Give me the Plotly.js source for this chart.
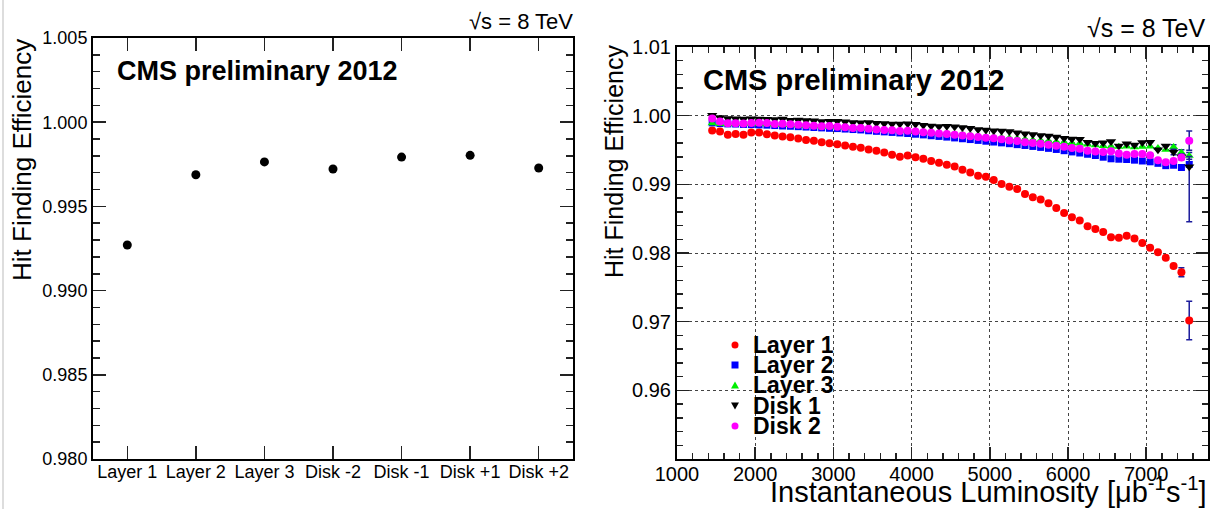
<!DOCTYPE html>
<html>
<head>
<meta charset="utf-8">
<script src="https://cdn.plot.ly/plotly-3.0.1.min.js"></script>
<style>html,body{margin:0;padding:0;background:#fff;}#chart{width:1213px;height:509px;}</style>
</head>
<body>
<div id="chart"></div>
<script>
// ---------- Left panel data ----------
const categories = ['Layer 1','Layer 2','Layer 3','Disk -2','Disk -1','Disk +1','Disk +2'];
const overallEff = [0.99271,0.99688,0.99764,0.99722,0.99793,0.99803,0.99728];

// ---------- Right panel data ----------
const lumi = [1450,1550,1650,1750,1850,1950,2050,2150,2250,2350,
  2450,2550,2650,2750,2850,2950,3050,3150,3250,3350,
  3450,3550,3650,3750,3850,3950,4050,4150,4250,4350,
  4450,4550,4650,4750,4850,4950,5050,5150,5250,5350,
  5450,5550,5650,5750,5850,5950,6050,6150,6250,6350,
  6450,6550,6650,6750,6850,6950,7050,7150,7250,7350,
  7450,7550];
const effLayer1 = [0.99783,0.99768,0.99722,0.99734,0.99722,0.99754,0.99754,0.99730,0.99710,0.99696,
  0.99686,0.99667,0.99647,0.99633,0.99614,0.99599,0.99585,0.99565,0.99546,0.99531,
  0.99507,0.99488,0.99464,0.99430,0.99401,0.99420,0.99396,0.99372,0.99338,0.99314,
  0.99285,0.99261,0.99213,0.99174,0.99126,0.99111,0.99063,0.99005,0.98966,0.98932,
  0.98860,0.98812,0.98778,0.98725,0.98655,0.98582,0.98522,0.98475,0.98388,0.98350,
  0.98306,0.98230,0.98222,0.98251,0.98210,0.98145,0.98075,0.98012,0.97930,0.97810,
  0.97720,0.97016];
const effLayer2 = [0.99895,0.99885,0.99880,0.99878,0.99872,0.99870,0.99866,0.99862,0.99856,0.99850,
  0.99846,0.99840,0.99834,0.99828,0.99822,0.99816,0.99812,0.99805,0.99798,0.99792,
  0.99780,0.99772,0.99764,0.99756,0.99748,0.99740,0.99730,0.99720,0.99708,0.99698,
  0.99688,0.99676,0.99664,0.99652,0.99640,0.99628,0.99616,0.99604,0.99592,0.99578,
  0.99566,0.99552,0.99538,0.99524,0.99508,0.99490,0.99472,0.99456,0.99438,0.99420,
  0.99395,0.99372,0.99366,0.99362,0.99352,0.99340,0.99328,0.99306,0.99272,0.99278,
  0.99245,0.99290];
const effLayer3 = [0.99888,0.99880,0.99875,0.99885,0.99878,0.99888,0.99884,0.99876,0.99870,0.99868,
  0.99864,0.99858,0.99852,0.99848,0.99842,0.99838,0.99832,0.99828,0.99822,0.99816,
  0.99810,0.99804,0.99798,0.99790,0.99784,0.99780,0.99774,0.99766,0.99760,0.99752,
  0.99746,0.99738,0.99730,0.99722,0.99712,0.99702,0.99694,0.99686,0.99676,0.99668,
  0.99656,0.99646,0.99640,0.99630,0.99620,0.99612,0.99602,0.99596,0.99580,0.99570,
  0.99560,0.99552,0.99548,0.99550,0.99540,0.99548,0.99552,0.99530,0.99505,0.99545,
  0.99462,0.99415];
const effDisk1 = [1.00005,0.99975,0.99960,0.99955,0.99950,0.99955,0.99952,0.99948,0.99944,0.99950,
  0.99935,0.99938,0.99930,0.99925,0.99915,0.99920,0.99918,0.99912,0.99902,0.99896,
  0.99900,0.99890,0.99885,0.99880,0.99878,0.99882,0.99876,0.99862,0.99850,0.99842,
  0.99845,0.99840,0.99828,0.99818,0.99800,0.99790,0.99780,0.99776,0.99770,0.99752,
  0.99738,0.99725,0.99710,0.99705,0.99690,0.99670,0.99662,0.99655,0.99612,0.99600,
  0.99605,0.99622,0.99560,0.99590,0.99572,0.99610,0.99612,0.99505,0.99560,0.99470,
  0.99400,0.99255];
const effDisk2 = [0.99960,0.99915,0.99888,0.99890,0.99885,0.99895,0.99898,0.99892,0.99880,0.99882,
  0.99876,0.99868,0.99860,0.99852,0.99846,0.99848,0.99840,0.99832,0.99822,0.99820,
  0.99810,0.99800,0.99792,0.99788,0.99775,0.99780,0.99770,0.99760,0.99752,0.99740,
  0.99732,0.99722,0.99712,0.99702,0.99690,0.99680,0.99670,0.99658,0.99640,0.99630,
  0.99612,0.99602,0.99590,0.99578,0.99562,0.99548,0.99530,0.99518,0.99488,0.99478,
  0.99470,0.99480,0.99448,0.99430,0.99442,0.99440,0.99425,0.99350,0.99322,0.99340,
  0.99390,0.99636];
// error bars: only the last bins have visible errors (values for the last bins)
const errLayer1Tail = [0.0002, 0.00065, 0.0028];
const errLayer2Tail = [0.0002, 0.0003, 0.0004];
const errLayer3Tail = [0.0003, 0.0004, 0.0005];
const errDisk1TailUp = [0.0004, 0.0004, 0.0015];
const errDisk1TailDown = [0.0004, 0.0004, 0.0080];
const errDisk2TailUp = [0.0002, 0.0003, 0.0014];
const errDisk2TailDown = [0.0002, 0.0003, 0.0014];

const seriesNames = ['Layer 1','Layer 2','Layer 3','Disk 1','Disk 2'];
const seriesColors = ['#ff0000','#0000ff','#00ee00','#000000','#ff00ff'];
const rightYTicks = [0.96, 0.97, 0.98, 0.99, 1.00, 1.01];

function pad(tail){ return new Array(lumi.length - tail.length).fill(0).concat(tail); }

const FONT = 'Liberation Sans, Arial, Helvetica, sans-serif';
const W = 1213, H = 509;
const X = p => p / W;
const Y = p => 1 - p / H;
const ERRCOL = '#1c1c9c';

// axis geometry (pixels)
const L_LEFT = 93, L_RIGHT = 573, L_TOP = 38, L_BOTTOM = 459;
const R_LEFT = 677, R_RIGHT = 1208, R_TOP = 47, R_BOTTOM = 459;

function errObj(up, down){
  return {type:'data', symmetric: !down, array: pad(up), arrayminus: down ? pad(down) : undefined,
          color: ERRCOL, thickness: 1.5, width: 3};
}

const traces = [
  {x: categories, y: overallEff, xaxis:'x', yaxis:'y', type:'scatter', mode:'markers',
   marker:{symbol:'circle', size:9, color:'#000'}, showlegend:false, name:'Efficiency'},
  {x: lumi, y: effLayer1, xaxis:'x2', yaxis:'y2', type:'scatter', mode:'markers', name: seriesNames[0],
   marker:{symbol:'circle', size:8, color: seriesColors[0]}, error_y: errObj(errLayer1Tail)},
  {x: lumi, y: effLayer2, xaxis:'x2', yaxis:'y2', type:'scatter', mode:'markers', name: seriesNames[1],
   marker:{symbol:'square', size:7, color: seriesColors[1]}, error_y: errObj(errLayer2Tail)},
  {x: lumi, y: effLayer3, xaxis:'x2', yaxis:'y2', type:'scatter', mode:'markers', name: seriesNames[2],
   marker:{symbol:'triangle-up', size:8, color: seriesColors[2]}, error_y: errObj(errLayer3Tail)},
  {x: lumi, y: effDisk1, xaxis:'x2', yaxis:'y2', type:'scatter', mode:'markers', name: seriesNames[3],
   marker:{symbol:'triangle-down', size:9, color: seriesColors[3]}, error_y: errObj(errDisk1TailUp, errDisk1TailDown)},
  {x: lumi, y: effDisk2, xaxis:'x2', yaxis:'y2', type:'scatter', mode:'markers', name: seriesNames[4],
   marker:{symbol:'circle', size:8, color: seriesColors[4]}, error_y: errObj(errDisk2TailUp, errDisk2TailDown)}
];

const axisCommon = {showline:true, linewidth:2, linecolor:'#000', mirror:'allticks', ticks:'inside',
  tickcolor:'#222', tickwidth:1.5, zeroline:false, fixedrange:true};

const shapes = [
  {type:'line', xref:'paper', yref:'paper', x0:X(3), x1:X(3), y0:0, y1:1, line:{color:'#bbb', width:1}}
];

// manual legend (keys + labels)
const legY = [345, 365, 385, 406, 426];
const legX = 735, legTextX = 751;
shapes.push(
  {type:'circle', xref:'paper', yref:'paper', x0:X(legX-3.5), x1:X(legX+3.5), y0:Y(legY[0]+3.5), y1:Y(legY[0]-3.5), fillcolor:seriesColors[0], line:{width:0}},
  {type:'rect', xref:'paper', yref:'paper', x0:X(legX-3.5), x1:X(legX+3.5), y0:Y(legY[1]+3.5), y1:Y(legY[1]-3.5), fillcolor:seriesColors[1], line:{width:0}},
  {type:'path', xref:'paper', yref:'paper', path:`M ${X(legX-4)} ${Y(legY[2]+3.5)} L ${X(legX+4)} ${Y(legY[2]+3.5)} L ${X(legX)} ${Y(legY[2]-3.5)} Z`, fillcolor:seriesColors[2], line:{width:0}},
  {type:'path', xref:'paper', yref:'paper', path:`M ${X(legX-4)} ${Y(legY[3]-3.5)} L ${X(legX+4)} ${Y(legY[3]-3.5)} L ${X(legX)} ${Y(legY[3]+3.5)} Z`, fillcolor:seriesColors[3], line:{width:0}},
  {type:'circle', xref:'paper', yref:'paper', x0:X(legX-3.5), x1:X(legX+3.5), y0:Y(legY[4]+3.5), y1:Y(legY[4]-3.5), fillcolor:seriesColors[4], line:{width:0}}
);

const annotations = [
  {text:'Hit Finding Efficiency', xref:'paper', yref:'paper', x:X(22), y:Y(160), textangle:-90,
   showarrow:false, xanchor:'center', yanchor:'middle', font:{family:FONT, size:26, color:'#000'}},
  {text:'Hit Finding Efficiency', xref:'paper', yref:'paper', x:X(614), y:Y(162), textangle:-90,
   showarrow:false, xanchor:'center', yanchor:'middle', font:{family:FONT, size:25, color:'#000'}},
  {text:'<b>CMS preliminary 2012</b>', xref:'paper', yref:'paper', x:X(115), y:Y(71),
   showarrow:false, xanchor:'left', yanchor:'middle', font:{family:FONT, size:27, color:'#000'}},
  {text:'<b>CMS preliminary 2012</b>', xref:'paper', yref:'paper', x:X(701), y:Y(80),
   showarrow:false, xanchor:'left', yanchor:'middle', font:{family:FONT, size:29, color:'#000'}},
  {text:'√s = 8 TeV', xref:'paper', yref:'paper', x:X(575), y:Y(21),
   showarrow:false, xanchor:'right', yanchor:'middle', font:{family:FONT, size:22, color:'#000'}},
  {text:'√s = 8 TeV', xref:'paper', yref:'paper', x:X(1208), y:Y(28),
   showarrow:false, xanchor:'right', yanchor:'middle', font:{family:FONT, size:25, color:'#000'}},
  {text:'Instantaneous Luminosity [μb<sup>-1</sup>s<sup>-1</sup>]', xref:'paper', yref:'paper', x:X(1208), y:Y(490),
   showarrow:false, xanchor:'right', yanchor:'middle', font:{family:FONT, size:29, color:'#000'}}
];
seriesNames.forEach((n, i) => annotations.push({text:'<b>' + n + '</b>', xref:'paper', yref:'paper',
  x:X(legTextX), y:Y(legY[i]), showarrow:false, xanchor:'left', yanchor:'middle',
  font:{family:FONT, size:23, color:'#000'}}));

const layout = {
  width: W, height: H, autosize:false,
  margin:{l:0, r:0, t:0, b:0, pad:0},
  paper_bgcolor:'#fff', plot_bgcolor:'#fff',
  showlegend:false,
  font:{family:FONT, color:'#000'},
  xaxis: Object.assign({}, axisCommon, {domain:[X(L_LEFT), X(L_RIGHT)], anchor:'y', type:'category',
    categoryorder:'array', categoryarray: categories, range:[-0.5, 6.5], ticklen:13,
    showgrid:false, ticklabelstandoff:-5, tickfont:{family:FONT, size:18, color:'#000'}}),
  yaxis: Object.assign({}, axisCommon, {domain:[Y(L_BOTTOM), Y(L_TOP)], anchor:'x', range:[0.980, 1.005],
    tick0:0.98, dtick:0.005, tickformat:'.3f', ticklen:13, showgrid:false,
    minor:{tick0:0.98, dtick:0.001, ticks:'inside', ticklen:7, tickcolor:'#222', tickwidth:1.5, showgrid:false},
    tickfont:{family:FONT, size:18, color:'#000'}}),
  xaxis2: Object.assign({}, axisCommon, {domain:[X(R_LEFT), X(R_RIGHT)], anchor:'y2', range:[1000, 7790],
    tick0:1000, dtick:1000, tickformat:'d', ticklen:12,
    showgrid:true, griddash:'dot', gridcolor:'#444', gridwidth:1, ticklabelstandoff:-4,
    minor:{tick0:1000, dtick:200, ticks:'inside', ticklen:6, tickcolor:'#222', tickwidth:1.5, showgrid:false},
    tickfont:{family:FONT, size:20, color:'#000'}}),
  yaxis2: Object.assign({}, axisCommon, {domain:[Y(R_BOTTOM), Y(R_TOP)], anchor:'x2', range:[0.95, 1.01],
    tickmode:'array', tickvals: rightYTicks, tickformat:'.2f', ticklen:12,
    showgrid:true, griddash:'dot', gridcolor:'#444', gridwidth:1,
    minor:{tickmode:'linear', tick0:0.95, dtick:0.002, ticks:'inside', ticklen:6, tickcolor:'#222', tickwidth:1.5, showgrid:false},
    tickfont:{family:FONT, size:20, color:'#000'}}),
  shapes: shapes,
  annotations: annotations
};

Plotly.newPlot('chart', traces, layout, {staticPlot:true, displayModeBar:false});
</script>
</body>
</html>
